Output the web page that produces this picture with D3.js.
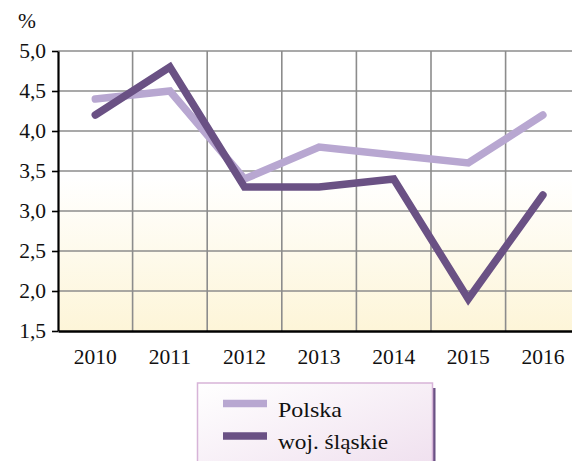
<!DOCTYPE html>
<html>
<head>
<meta charset="utf-8">
<script src="https://cdn.jsdelivr.net/npm/d3@7"></script>
</head>
<body style="margin:0;background:#fff">
<svg id="chart" width="572" height="461" style="display:block"></svg>
<script>
// Rates by year, Poland vs Silesian voivodeship
const years = ["2010", "2011", "2012", "2013", "2014", "2015", "2016"];
const polska = [4.4, 4.5, 3.4, 3.8, 3.7, 3.6, 4.2];
const slaskie = [4.2, 4.8, 3.3, 3.3, 3.4, 1.9, 3.2];
const yTicks = [1.5, 2.0, 2.5, 3.0, 3.5, 4.0, 4.5, 5.0];
const seriesNames = ["Polska", "woj. śląskie"];
const seriesColors = ["#b8a7d1", "#6a5184"];

(function draw() {
  const FONT = "'Liberation Serif', 'Times New Roman', serif";
  const svg = d3.select("#chart");
  const plotLeft = 58, plotTop = 51, plotBottom = 331, bandW = 74.6;
  const plotRight = plotLeft + bandW * years.length;

  const x = d3.scaleBand().domain(years).range([plotLeft, plotRight]).padding(0);
  const y = d3.scaleLinear().domain([1.5, 5.0]).range([plotBottom, plotTop]);

  const defs = svg.append("defs");
  const bg = defs.append("linearGradient").attr("id", "plotBg")
    .attr("x1", 0).attr("y1", 0).attr("x2", 0).attr("y2", 1);
  bg.append("stop").attr("offset", "0%").attr("stop-color", "#ffffff");
  bg.append("stop").attr("offset", "45%").attr("stop-color", "#ffffff");
  bg.append("stop").attr("offset", "100%").attr("stop-color", "#fdf5d8");

  const lg = defs.append("linearGradient").attr("id", "legendBg")
    .attr("x1", 0).attr("y1", 0).attr("x2", 1).attr("y2", 1);
  lg.append("stop").attr("offset", "0%").attr("stop-color", "#ffffff");
  lg.append("stop").attr("offset", "100%").attr("stop-color", "#efdfee");

  // plot background
  svg.append("rect").attr("x", plotLeft).attr("y", plotTop)
    .attr("width", plotRight - plotLeft).attr("height", plotBottom - plotTop)
    .attr("fill", "url(#plotBg)");

  // grid
  const grid = svg.append("g").attr("stroke", "#8c8c8c").attr("stroke-width", 1.6);
  grid.selectAll("line.h").data(yTicks.slice(1)).join("line").attr("class", "h")
    .attr("x1", plotLeft).attr("x2", plotRight)
    .attr("y1", d => y(d)).attr("y2", d => y(d));
  grid.selectAll("line.v").data(years.slice(1)).join("line").attr("class", "v")
    .attr("x1", d => x(d)).attr("x2", d => x(d))
    .attr("y1", plotTop).attr("y2", plotBottom);

  // axes
  const yAxis = d3.axisLeft(y).tickValues(yTicks)
    .tickFormat(d => d3.format(".1f")(d).replace(".", ","))
    .tickSize(6).tickSizeOuter(0).tickPadding(6);
  const gy = svg.append("g").attr("transform", `translate(${plotLeft},0)`).call(yAxis);
  gy.select(".domain").attr("stroke", "#000").attr("stroke-width", 2.2);
  gy.selectAll(".tick line").attr("stroke", "#000").attr("stroke-width", 1.6);
  gy.selectAll(".tick text").style("font-family", FONT).style("font-size", "21.5px").attr("fill", "#111");

  const xAxis = d3.axisBottom(x).tickSize(0).tickSizeOuter(0).tickPadding(18);
  const gx = svg.append("g").attr("transform", `translate(0,${plotBottom})`).call(xAxis);
  gx.select(".domain").attr("stroke", "#000").attr("stroke-width", 2.6);
  gx.selectAll(".tick text").style("font-family", FONT).style("font-size", "21.5px").attr("fill", "#111");

  svg.append("text").attr("x", 27).attr("y", 28).attr("text-anchor", "middle")
    .style("font-family", FONT).style("font-size", "21.5px").attr("fill", "#111").text("%");

  // series lines
  const line = d3.line().x((d, i) => x(years[i]) + x.bandwidth() / 2).y(d => y(d));
  [polska, slaskie].forEach((vals, k) => {
    svg.append("path").datum(vals).attr("d", line)
      .attr("fill", "none").attr("stroke", seriesColors[k])
      .attr("stroke-width", 7.5).attr("stroke-linecap", "round")
      .attr("stroke-linejoin", "miter");
  });

  // legend
  const leg = svg.append("g");
  leg.append("rect").attr("x", 433).attr("y", 388).attr("width", 2.5).attr("height", 80)
    .attr("fill", "#6a5184");
  leg.append("rect").attr("x", 197.5).attr("y", 383).attr("width", 235).attr("height", 90)
    .attr("fill", "url(#legendBg)").attr("stroke", "#d7b4d8").attr("stroke-width", 1.5);
  const legendWidths = [64, 110];
  seriesNames.forEach((name, k) => {
    const cy = 403.5 + k * 32.5;
    leg.append("rect").attr("x", 223).attr("y", cy - 3.75).attr("width", 44).attr("height", 7.5)
      .attr("fill", seriesColors[k]);
    leg.append("text").attr("x", 278).attr("y", cy + 13)
      .attr("textLength", legendWidths[k]).attr("lengthAdjust", "spacingAndGlyphs")
      .style("font-family", FONT).style("font-size", "21px").attr("fill", "#111").text(name);
  });
})();
</script>
</body>
</html>
